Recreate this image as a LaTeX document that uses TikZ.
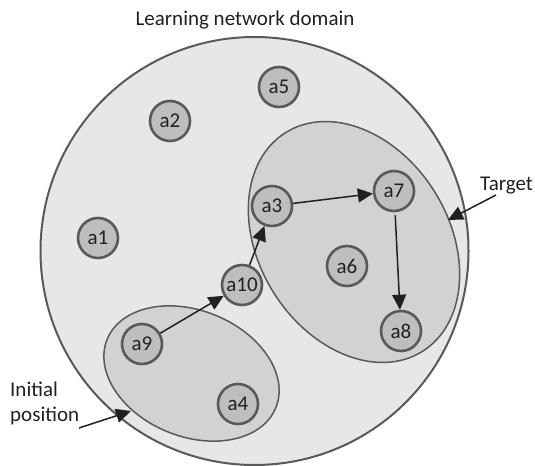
\documentclass[tikz,border=0pt]{standalone}
\usepackage{fontspec}
\setmainfont{Carlito}
\usetikzlibrary{shapes.geometric,arrows.meta}
\definecolor{domfill}{HTML}{E6E7E8}
\definecolor{grpfill}{HTML}{D1D2D4}
\definecolor{nodefill}{HTML}{BDBEC0}
\definecolor{edge}{HTML}{58595B}
\definecolor{txt}{HTML}{231F20}
\tikzset{
  agent/.style={circle, draw=edge, fill=nodefill, line width=2.6bp, minimum size=40bp, inner sep=0pt, text=txt},
  group/.style={ellipse, draw=edge, fill=grpfill, line width=1.5bp, inner sep=0pt},
  link/.style={draw=txt, line width=1.5bp, -{Triangle[length=15bp,width=14bp]}},
  lbl/.style={text=txt, inner sep=0pt}
}
\begin{document}
\begin{tikzpicture}[x=1bp,y=-1bp, every node/.style={font=\fontsize{21bp}{25bp}\selectfont}]
\useasboundingbox (0,0) rectangle (535,466);
\node[circle, draw=edge, fill=domfill, line width=2bp, minimum size=428bp, inner sep=0pt] (domain) at (254.5,251) {};
\node[lbl, anchor=base] (title) at (245,26) {Learning network domain};
\node[group, minimum width=258bp, minimum height=190bp, rotate=-58] (target) at (354,242) {};
\node[group, minimum width=182bp, minimum height=126bp, rotate=-22] (init) at (191.5,373.5) {};
\node[agent] (a5) at (279,87) {a5};
\node[agent] (a2) at (170,121) {a2};
\node[agent] (a1) at (98,238) {a1};
\node[agent] (a3) at (272,206) {a3};
\node[agent] (a7) at (394,191) {a7};
\node[agent] (a6) at (347,266) {a6};
\node[agent] (a10) at (242,285) {a10};
\node[agent] (a9) at (142,344) {a9};
\node[agent] (a4) at (238,404) {a4};
\node[agent] (a8) at (401,331) {a8};
\draw[link] (a9) -- (a10);
\draw[link] (a10) -- (a3);
\draw[link] (a3) -- (a7);
\draw[link, shorten <=3bp] (a7) -- (a8);
\node[lbl, align=left, anchor=base west] (initlbl) at (10,421) {Initial\\position};
\node[lbl, anchor=base west] (targetlbl) at (480,191) {Target};
\coordinate (initfrom) at (79,428);
\coordinate (initto) at (131,411);
\coordinate (tfrom) at (496,195);
\coordinate (tto) at (448,220);
\draw[link] (initfrom) -- (initto);
\draw[link] (tfrom) -- (tto);
\end{tikzpicture}
\end{document}
